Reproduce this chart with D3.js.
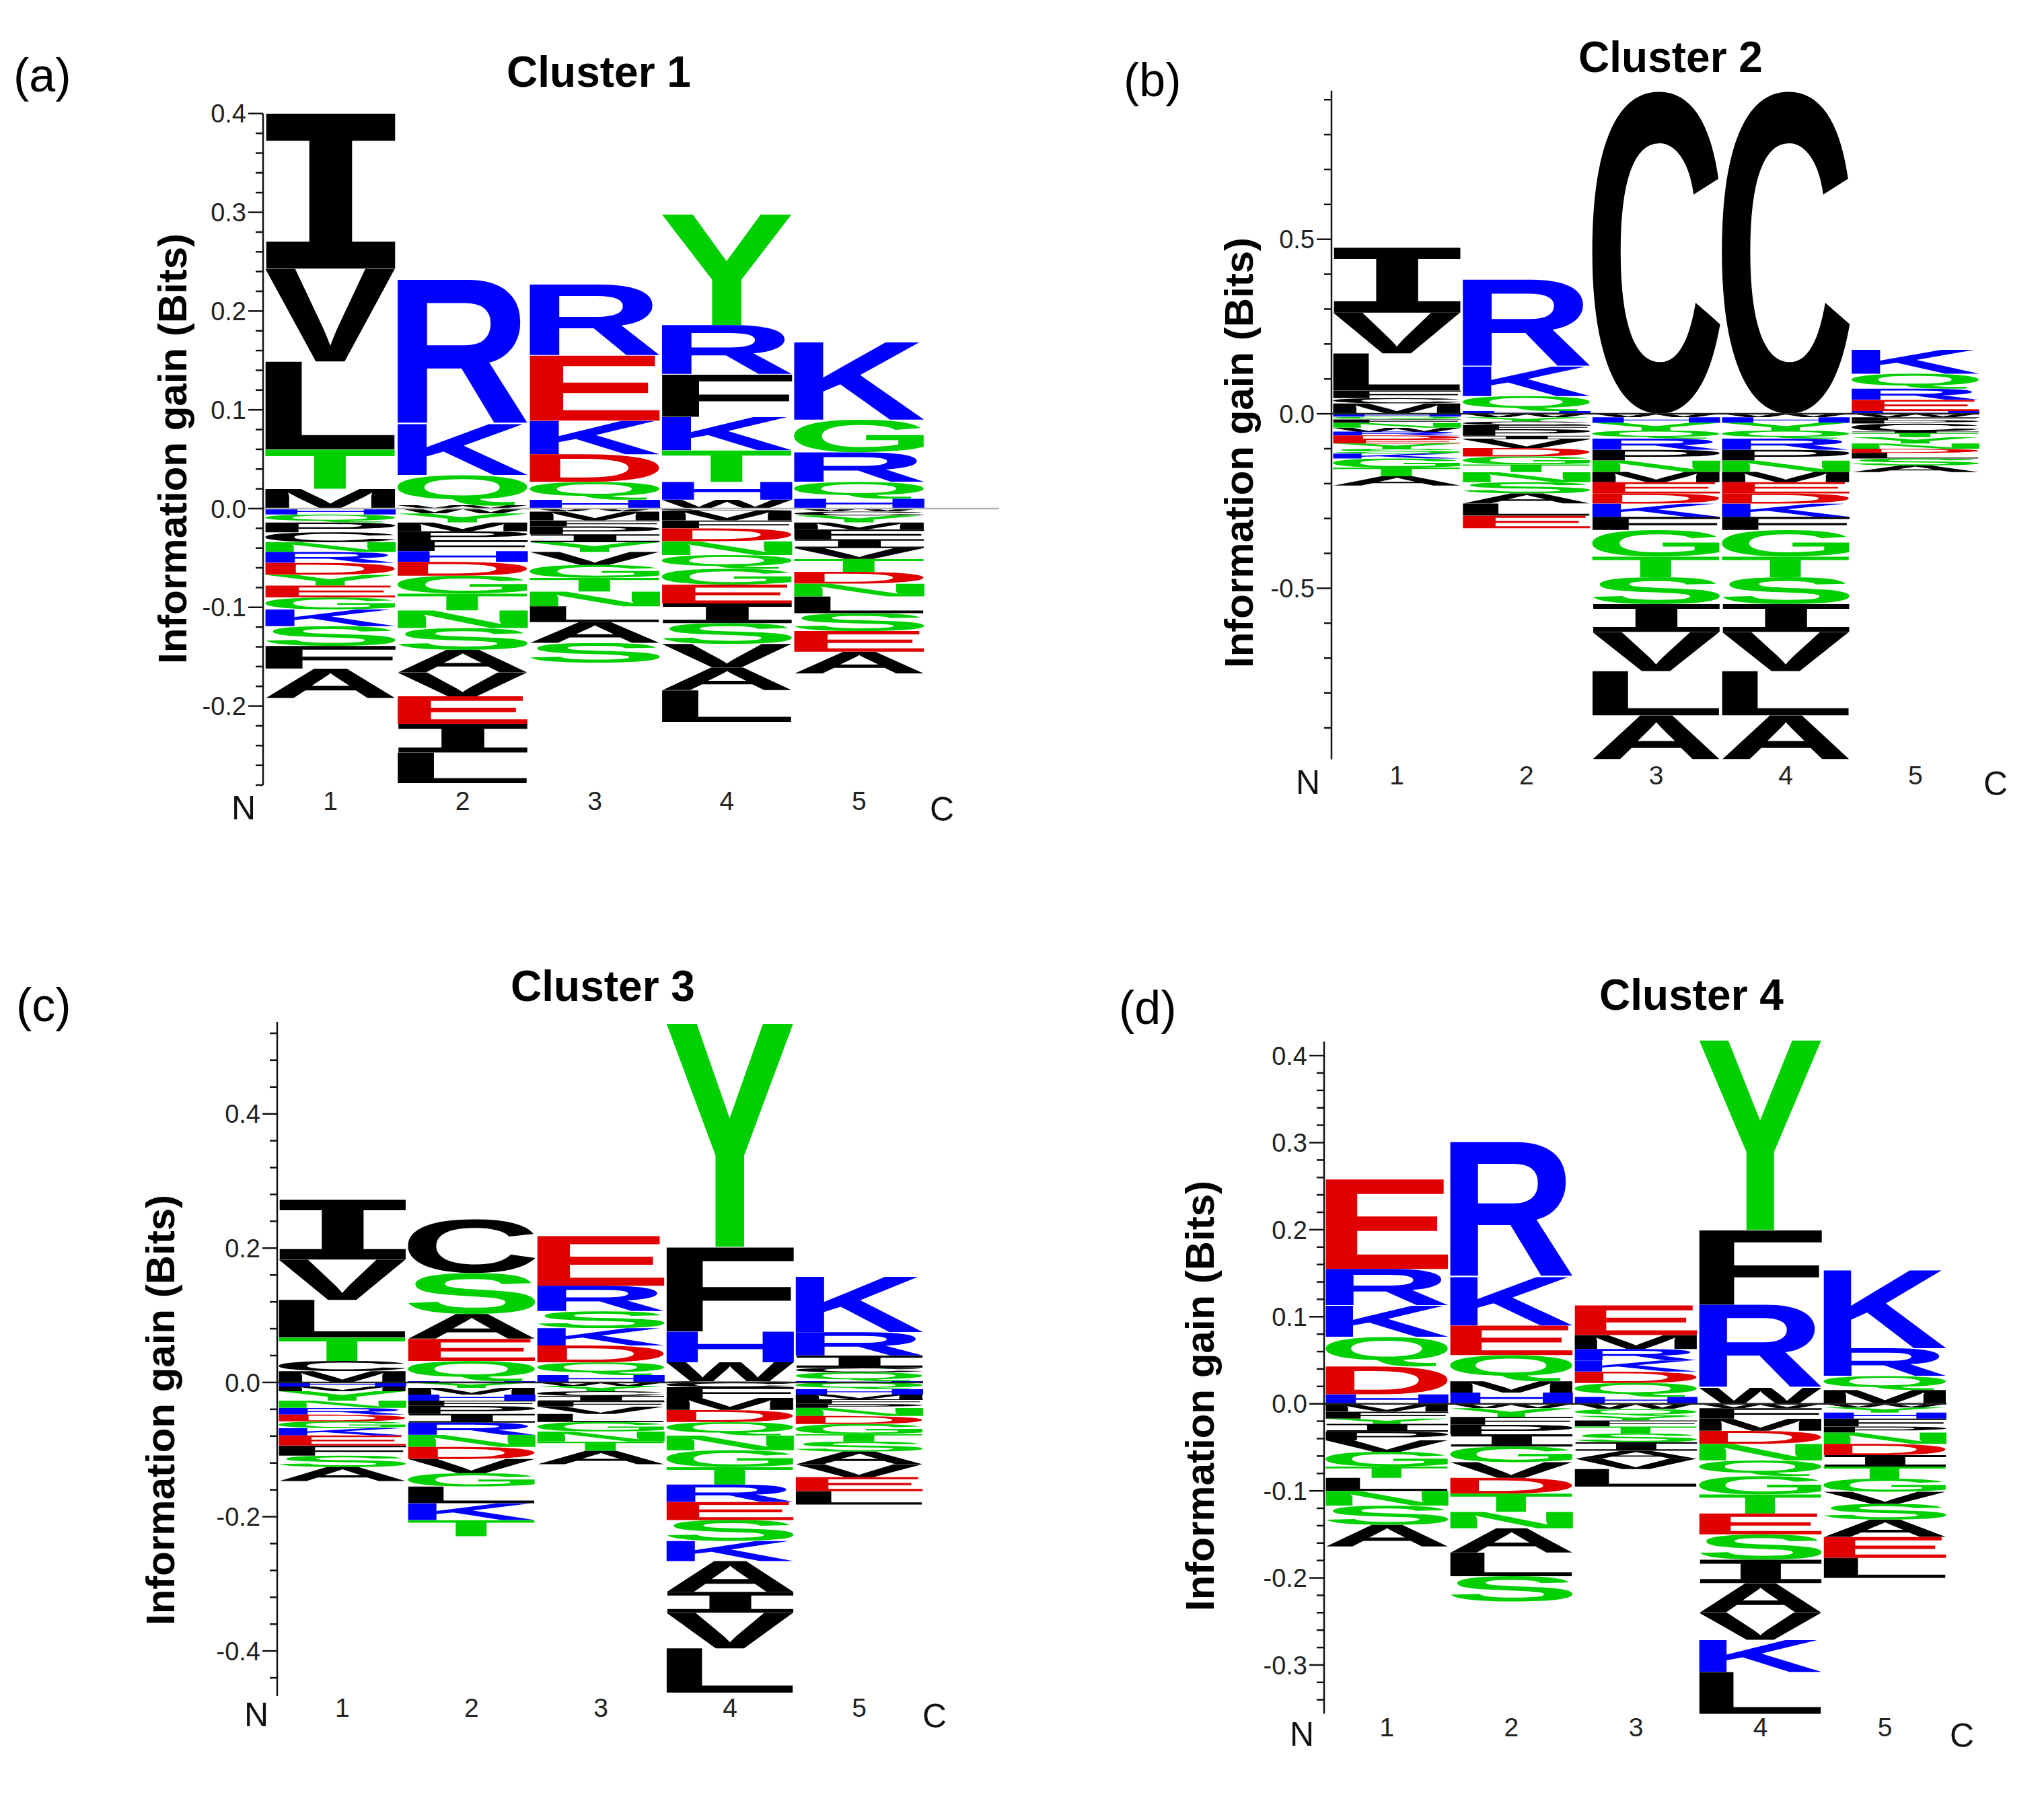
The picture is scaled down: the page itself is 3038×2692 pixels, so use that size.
<!DOCTYPE html>
<html>
<head>
<meta charset="utf-8">
<script src="https://cdn.jsdelivr.net/npm/d3@7"></script>
<style>
  body { margin: 0; background: #fff; }
  text { font-family: "Liberation Sans", Arial, sans-serif; }
</style>
</head>
<body>
<svg id="chart" width="3038" height="2692"></svg>
<script>
// positions along the peptide
const positions = [1, 2, 3, 4, 5];

// Each stack lists [residue, bits]. Positive stacks go from the top down to 0,
// negative stacks go from 0 downward.
const cluster1Pos = [
  [["I",0.157],["V",0.094],["L",0.089],["T",0.040],["M",0.020]],
  [["R",0.146],["K",0.052],["Q",0.031],["W",0.003]],
  [["R",0.072],["E",0.066],["K",0.034],["D",0.028],["Q",0.018],["H",0.009]],
  [["Y",0.112],["R",0.050],["F",0.043],["K",0.034],["T",0.032],["H",0.018],["W",0.009]],
  [["K",0.079],["G",0.033],["R",0.030],["Q",0.017],["H",0.010]]
];
const cluster1Neg = [
  [["H",0.006],["Q",0.008],["P",0.010],["C",0.010],["N",0.010],["R",0.011],["D",0.012],["Y",0.011],["E",0.012],["G",0.012],["K",0.017],["S",0.020],["F",0.023],["A",0.030]],
  [["W",0.005],["Y",0.009],["M",0.009],["P",0.009],["F",0.011],["H",0.011],["D",0.014],["G",0.018],["T",0.017],["N",0.018],["S",0.022],["A",0.023],["V",0.024],["E",0.028],["I",0.029],["L",0.031]],
  [["W",0.003],["M",0.009],["F",0.006],["P",0.008],["I",0.008],["Y",0.010],["V",0.013],["G",0.013],["T",0.014],["N",0.015],["L",0.016],["A",0.021],["S",0.020]],
  [["C",0.002],["M",0.010],["F",0.008],["D",0.013],["N",0.014],["Q",0.014],["G",0.016],["E",0.019],["I",0.020],["S",0.021],["V",0.024],["A",0.023],["L",0.032]],
  [["W",0.003],["C",0.004],["Y",0.007],["M",0.007],["F",0.010],["I",0.009],["V",0.011],["T",0.013],["D",0.012],["N",0.013],["L",0.017],["S",0.018],["E",0.021],["A",0.022]]
];

const cluster2Pos = [
  [["I",0.186],["V",0.117],["L",0.106],["F",0.022],["C",0.015],["M",0.030]],
  [["R",0.249],["K",0.085],["Q",0.043],["H",0.008]],
  [["C",0.925]],
  [["C",0.925]],
  [["K",0.069],["Q",0.043],["R",0.032],["E",0.032],["H",0.008]]
];
const cluster2Neg = [
  [["H",0.008],["Q",0.008],["F",0.010],["N",0.014],["W",0.011],["R",0.011],["D",0.011],["E",0.012],["Y",0.015],["S",0.014],["K",0.014],["G",0.026],["T",0.025],["A",0.027]],
  [["W",0.010],["Y",0.012],["C",0.010],["F",0.012],["P",0.019],["I",0.010],["V",0.025],["D",0.024],["G",0.023],["T",0.022],["N",0.029],["S",0.032],["A",0.029],["L",0.035],["E",0.036]],
  [["W",0.010],["H",0.016],["Y",0.022],["Q",0.023],["R",0.032],["P",0.031],["N",0.032],["M",0.030],["E",0.032],["D",0.029],["K",0.038],["F",0.038],["G",0.076],["T",0.059],["S",0.077],["I",0.080],["V",0.112],["L",0.127],["A",0.126]],
  [["W",0.010],["H",0.016],["Y",0.022],["Q",0.023],["R",0.032],["P",0.031],["N",0.032],["M",0.030],["E",0.032],["D",0.029],["K",0.038],["F",0.038],["G",0.076],["T",0.059],["S",0.077],["I",0.080],["V",0.112],["L",0.127],["A",0.126]],
  [["W",0.010],["F",0.008],["P",0.010],["C",0.022],["I",0.005],["T",0.012],["Y",0.018],["N",0.015],["D",0.012],["L",0.016],["S",0.020],["A",0.019]]
];

const cluster3Pos = [
  [["I",0.089],["V",0.060],["L",0.056],["T",0.035],["C",0.015],["M",0.017]],
  [["C",0.080],["S",0.061],["A",0.037],["E",0.033],["Q",0.030],["H",0.002]],
  [["E",0.074],["R",0.038],["S",0.025],["K",0.026],["D",0.025],["Q",0.019],["H",0.011]],
  [["Y",0.333],["F",0.126],["H",0.046],["W",0.028],["C",0.002]],
  [["K",0.083],["R",0.035],["I",0.018],["C",0.007],["Q",0.013],["H",0.002]]
];
const cluster3Neg = [
  [["H",0.006],["M",0.007],["Y",0.014],["N",0.011],["R",0.010],["D",0.010],["G",0.010],["K",0.011],["E",0.015],["F",0.015],["S",0.017],["A",0.021]],
  [["Y",0.008],["M",0.010],["H",0.009],["F",0.008],["P",0.012],["I",0.013],["R",0.018],["N",0.018],["D",0.018],["V",0.021],["G",0.020],["L",0.025],["K",0.025],["T",0.024]],
  [["W",0.005],["Y",0.008],["C",0.007],["I",0.008],["F",0.008],["V",0.011],["L",0.012],["G",0.014],["N",0.015],["T",0.014],["A",0.020]],
  [["C",0.007],["F",0.016],["M",0.018],["D",0.018],["Q",0.020],["N",0.022],["G",0.025],["T",0.026],["R",0.026],["E",0.027],["S",0.031],["K",0.030],["A",0.046],["I",0.031],["V",0.053],["L",0.066]],
  [["Q",0.010],["H",0.008],["M",0.007],["F",0.007],["P",0.006],["N",0.012],["D",0.012],["G",0.015],["T",0.011],["S",0.015],["A",0.019],["V",0.019],["E",0.021],["L",0.020]]
];

const cluster4Pos = [
  [["E",0.103],["R",0.042],["K",0.036],["Q",0.034],["D",0.032],["H",0.011]],
  [["R",0.155],["K",0.056],["E",0.034],["Q",0.030],["M",0.013],["H",0.013]],
  [["E",0.034],["M",0.016],["R",0.013],["K",0.013],["D",0.013],["Q",0.016],["H",0.008]],
  [["Y",0.218],["F",0.086],["R",0.095],["W",0.019]],
  [["K",0.090],["R",0.032],["Q",0.016],["M",0.016]]
];
const cluster4Neg = [
  [["W",0.001],["M",0.008],["F",0.008],["Y",0.006],["I",0.009],["P",0.010],["V",0.013],["G",0.017],["T",0.013],["L",0.015],["N",0.017],["S",0.022],["A",0.025]],
  [["W",0.005],["Y",0.010],["F",0.009],["P",0.011],["I",0.014],["G",0.018],["V",0.018],["D",0.018],["T",0.021],["N",0.019],["A",0.028],["L",0.027],["S",0.029]],
  [["W",0.006],["Q",0.008],["Y",0.005],["F",0.007],["T",0.008],["S",0.010],["I",0.010],["A",0.009],["V",0.012],["L",0.020]],
  [["W",0.005],["F",0.012],["M",0.014],["D",0.015],["N",0.019],["Q",0.018],["G",0.021],["T",0.022],["E",0.024],["S",0.029],["I",0.027],["A",0.034],["V",0.031],["K",0.037],["L",0.048]],
  [["W",0.004],["Y",0.006],["H",0.007],["F",0.009],["P",0.007],["N",0.013],["D",0.013],["I",0.013],["T",0.014],["G",0.015],["V",0.014],["S",0.018],["A",0.020],["E",0.024],["L",0.023]]
];

// axis extents (bits) and tick spacing for each cluster
const cluster1Axis = { domain: [-0.28, 0.40], minor: 0.02, major: 0.1 };
const cluster2Axis = { domain: [-0.99, 0.926], minor: 0.1, major: 0.5 };
const cluster3Axis = { domain: [-0.467, 0.537], minor: 0.04, major: 0.2 };
const cluster4Axis = { domain: [-0.356, 0.416], minor: 0.02, major: 0.1 };

// residue colouring: acidic red, basic blue, polar green, hydrophobic black
const RED = "#e00000", BLUE = "#0000ff", GREEN = "#00d000", BLACK = "#000000";
function residueColor(ch){
  if ("DE".includes(ch)) return RED;
  if ("KRH".includes(ch)) return BLUE;
  if ("GSTYNQ".includes(ch)) return GREEN;
  return BLACK;
}

const panels = [
  { tag: "(a)", title: "Cluster 1", pos: cluster1Pos, neg: cluster1Neg, axis: cluster1Axis,
    axisX: 391, cols: [394, 1374], yRange: [1167, 168.8], zeroEnd: 1485, zeroColor: "#b4b4b4",
    titleXY: [890, 129], tagXY: [20, 136], ylabXY: [277, 667], numY: 1204, nXY: [362, 1218], cXY: [1400, 1220] },
  { tag: "(b)", title: "Cluster 2", pos: cluster2Pos, neg: cluster2Neg, axis: cluster2Axis,
    axisX: 1979, cols: [1981, 2942], yRange: [1128.7, 134.7], zeroEnd: 2942, zeroColor: "#222",
    titleXY: [2483, 107], tagXY: [1670, 143], ylabXY: [1862, 673], numY: 1166, nXY: [1944, 1180], cXY: [2966, 1182] },
  { tag: "(c)", title: "Cluster 3", pos: cluster3Pos, neg: cluster3Neg, axis: cluster3Axis,
    axisX: 412, cols: [414, 1372], yRange: [2521, 1519], zeroEnd: 1372, zeroColor: "#222",
    titleXY: [896, 1488], tagXY: [24, 1518], ylabXY: [259, 2096], numY: 2552, nXY: [381, 2566], cXY: [1389, 2568] },
  { tag: "(d)", title: "Cluster 4", pos: cluster4Pos, neg: cluster4Neg, axis: cluster4Axis,
    axisX: 1968, cols: [1970, 2893], yRange: [2547.4, 1548.4], zeroEnd: 2893, zeroColor: "#222",
    titleXY: [2514, 1501], tagXY: [1663, 1522], ylabXY: [1804, 2075], numY: 2581, nXY: [1935, 2595], cXY: [2916, 2597] }
];

const svg = d3.select("#chart");
svg.append("rect").attr("width", 3038).attr("height", 2692).attr("fill", "#fff");

// ink bounds of each glyph, so letters can be stretched to fill their box
const ctx = document.createElement("canvas").getContext("2d");
const glyphCache = {};
const FS = 200;
function glyph(ch){
  if (glyphCache[ch]) return glyphCache[ch];
  // the logo's I has bars top and bottom, so take it from a serifed mono face
  const family = ch === "I" ? "DejaVu Sans Mono" : "Liberation Sans";
  ctx.font = "bold " + FS + "px '" + family + "'";
  const m = ctx.measureText(ch);
  glyphCache[ch] = { family: family, l: m.actualBoundingBoxLeft, r: m.actualBoundingBoxRight,
                     a: m.actualBoundingBoxAscent, d: m.actualBoundingBoxDescent };
  return glyphCache[ch];
}

function drawLetter(g, ch, x, y, w, h){
  if (h < 0.6) return;
  const b = glyph(ch);
  const sx = w / (b.l + b.r), sy = h / (b.a + b.d);
  g.append("text")
    .attr("transform", `translate(${x},${y}) scale(${sx},${sy}) translate(${b.l},${b.a})`)
    .style("font-family", `'${b.family}'`)
    .style("font-weight", "bold")
    .style("font-size", FS + "px")
    .attr("fill", residueColor(ch))
    .text(ch);
}

function tickValues(axis){
  const [lo, hi] = axis.domain;
  const i0 = Math.ceil(lo / axis.minor - 1e-6), i1 = Math.floor(hi / axis.minor + 1e-6);
  return d3.range(i0, i1 + 1).map(i => +(i * axis.minor).toFixed(4));
}
const fmt = v => (v < -1e-9 ? "-" : "") + Math.abs(v).toFixed(1);

panels.forEach(p => {
  const g = svg.append("g");
  const y = d3.scaleLinear().domain(p.axis.domain).range(p.yRange);
  const x = d3.scaleBand().domain(positions).range(p.cols).paddingInner(0.012);

  // letter stacks
  positions.forEach((pos, i) => {
    const col = g.append("g");
    const total = d3.sum(p.pos[i], d => d[1]);
    let top = total;
    p.pos[i].forEach(([ch, bits]) => {
      const y0 = y(top), y1 = y(top - bits);
      drawLetter(col, ch, x(pos), y0, x.bandwidth(), y1 - y0);
      top -= bits;
    });
    let cur = 0;
    p.neg[i].forEach(([ch, bits]) => {
      const y0 = y(cur), y1 = y(cur - bits);
      drawLetter(col, ch, x(pos), y0, x.bandwidth(), y1 - y0);
      cur -= bits;
    });
  });

  // zero line
  g.append("line")
    .attr("x1", p.axisX).attr("x2", p.zeroEnd)
    .attr("y1", y(0)).attr("y2", y(0))
    .attr("stroke", p.zeroColor).attr("stroke-width", 2.5);

  // y axis
  const ticks = tickValues(p.axis);
  const isMajor = v => Math.abs(v / p.axis.major - Math.round(v / p.axis.major)) < 1e-6;
  g.append("line")
    .attr("x1", p.axisX).attr("x2", p.axisX)
    .attr("y1", y(p.axis.domain[1])).attr("y2", y(p.axis.domain[0]))
    .attr("stroke", "#111").attr("stroke-width", 2.5);
  g.selectAll(".tick").data(ticks).join("line")
    .attr("x1", d => p.axisX - (isMajor(d) ? 22 : 11)).attr("x2", p.axisX)
    .attr("y1", d => y(d)).attr("y2", d => y(d))
    .attr("stroke", "#111").attr("stroke-width", 2.5);
  g.selectAll(".tlab").data(ticks.filter(isMajor)).join("text")
    .attr("x", p.axisX - 25).attr("y", d => y(d)).attr("dy", "0.36em")
    .attr("text-anchor", "end").style("font-size", "38px").attr("fill", "#222")
    .text(fmt);

  // position labels
  g.selectAll(".plab").data(positions).join("text")
    .attr("x", d => x(d) + x.bandwidth() / 2).attr("y", p.numY)
    .attr("text-anchor", "middle").style("font-size", "39px").attr("fill", "#222")
    .text(d => d);
  g.append("text").attr("x", p.nXY[0]).attr("y", p.nXY[1])
    .attr("text-anchor", "middle").style("font-size", "50px").attr("fill", "#111").text("N");
  g.append("text").attr("x", p.cXY[0]).attr("y", p.cXY[1])
    .attr("text-anchor", "middle").style("font-size", "50px").attr("fill", "#111").text("C");

  // axis title, panel title, panel tag
  g.append("text")
    .attr("transform", `translate(${p.ylabXY[0]},${p.ylabXY[1]}) rotate(-90)`)
    .attr("text-anchor", "middle").style("font-size", "60px").style("font-weight", "bold")
    .text("Information gain (Bits)");
  g.append("text").attr("x", p.titleXY[0]).attr("y", p.titleXY[1])
    .attr("text-anchor", "middle").style("font-size", "64px").style("font-weight", "bold")
    .text(p.title);
  g.append("text").attr("x", p.tagXY[0]).attr("y", p.tagXY[1])
    .style("font-size", "70px").text(p.tag);
});
</script>
</body>
</html>
